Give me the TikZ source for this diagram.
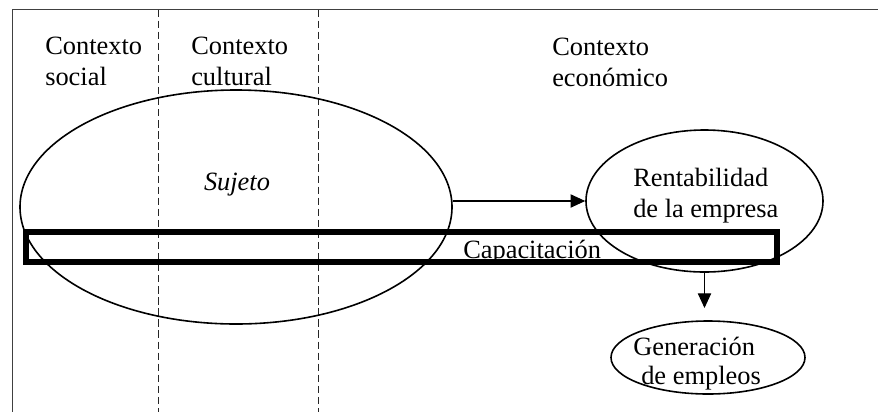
\documentclass[tikz,border=0pt]{standalone}
\usepackage{fontspec}
\setmainfont{Liberation Serif}
\usetikzlibrary{shapes.geometric,arrows.meta}
\tikzset{
  frameline/.style={draw=black!75,line width=0.8pt},
  sepline/.style={draw=black!85,line width=0.8pt,dash pattern=on 5.5pt off 2.8pt},
  oval/.style={draw,ellipse,line width=1.2pt,inner sep=0pt},
  lbl/.style={inner sep=0pt,anchor=base west,font=\fontsize{19.8}{23.5}\selectfont},
  arr/.style={line width=0.8pt,-{Triangle[length=11pt,width=10pt]}},
  capbox/.style={draw,line width=4.2pt,inner sep=0pt}
}
\newcommand{\twol}[2]{\begin{tabular}[t]{@{}l@{}}#1\\#2\end{tabular}}
\begin{document}
\begin{tikzpicture}[x=0.75pt,y=-0.75pt]
\useasboundingbox (0,0) rectangle (878,412);
% frame
\coordinate (tl) at (12.5,9.5);
\coordinate (tr) at (878,9.5);
\coordinate (bl) at (12.5,412);
\draw[frameline] (tr) -- (tl) -- (bl);
% separators
\coordinate (s1t) at (158.5,9.5);
\coordinate (s1b) at (158.5,412);
\coordinate (s2t) at (318.5,9.5);
\coordinate (s2b) at (318.5,412);
\draw[sepline] (s1t) -- (s1b);
\draw[sepline] (s2t) -- (s2b);
% headings
\node[lbl] (social) at (45,54.5) {\twol{Contexto}{social}};
\node[lbl] (cultural) at (191,54.5) {\twol{Contexto}{cultural}};
\node[lbl] (economico) at (552,55) {\twol{Contexto}{económico}};
% ellipses
\node[oval,minimum width=324pt,minimum height=175.5pt] (suj) at (236,207) {};
\node[lbl,anchor=base] (sujtxt) at (237,190) {\itshape Sujeto};
\node[oval,minimum width=177.75pt,minimum height=106.5pt] (rent) at (704.5,201) {};
\node[lbl] (rent1) at (633,186) {Rentabilidad};
\node[lbl] (rent2) at (633,217.5) {de la empresa};
\node[oval,minimum width=145.5pt,minimum height=54.75pt] (gen) at (708,357.5) {};
\node[lbl] (gen1) at (633,355) {Generación};
\node[lbl] (gen2) at (641,384) {de empleos};
% arrows
\draw[arr] (rent.west -| suj.east) -- (rent.west);
\coordinate (tip) at (704.5,308);
\draw[arr] (rent.south) -- (tip);
% capacitacion
\node[lbl] (captxt) at (463,258) {Capacitación};
\node[capbox,minimum width=563.25pt,minimum height=22.5pt] (cap) at (401.5,247) {};
\end{tikzpicture}
\end{document}
